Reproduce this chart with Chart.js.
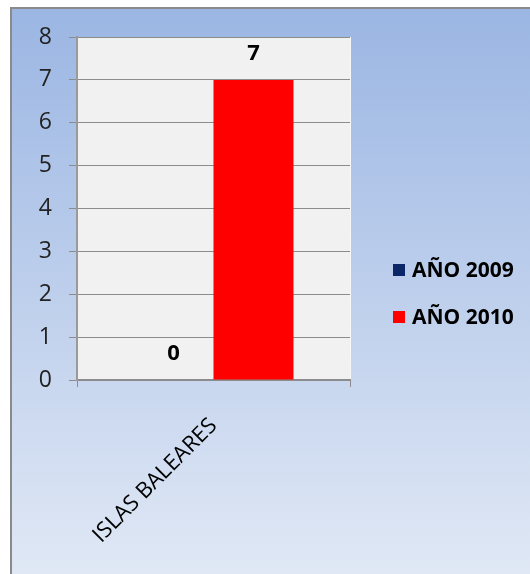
<!DOCTYPE html>
<html><head><meta charset="utf-8">
<script src="https://cdn.jsdelivr.net/npm/chart.js@4/dist/chart.umd.min.js"></script>
<style>html,body{margin:0;padding:0;background:#fff;overflow:hidden}#wrap{width:530px;height:574px;position:relative}</style>
</head><body><div id="wrap"><canvas id="c" width="530" height="574"></canvas></div>
<script>
const categories = ['ISLAS BALEARES'];
const seriesNames = ['AÑO 2009', 'AÑO 2010'];
const values2009 = [0];
const values2010 = [7];
const seriesColors = ['#0b2767', '#ff0000'];
const yTickValues = [0, 1, 2, 3, 4, 5, 6, 7, 8];

const bgPlugin = {
  id: 'bg',
  beforeDraw(chart) {
    const ctx = chart.ctx, W = chart.width, H = chart.height;
    ctx.save();
    ctx.fillStyle = '#ffffff';
    ctx.fillRect(0, 0, W, H);
    const g = ctx.createLinearGradient(0, 9, 0, H);
    g.addColorStop(0, '#9bb6e3');
    g.addColorStop(1, '#e0e8f5');
    ctx.fillStyle = g;
    ctx.fillRect(11, 8, W - 11, H - 8);
    ctx.strokeStyle = '#8a8a8a';
    ctx.lineWidth = 2;
    ctx.beginPath();
    ctx.moveTo(11, H); ctx.lineTo(11, 8); ctx.lineTo(W, 8);
    ctx.stroke();
    const a = chart.chartArea;
    ctx.fillStyle = '#f1f1f1';
    ctx.fillRect(a.left, a.top, a.right - a.left, a.bottom - a.top);
    ctx.strokeStyle = '#f7f7f7';
    ctx.lineWidth = 1;
    ctx.beginPath();
    ctx.moveTo(a.right + 0.5, a.top); ctx.lineTo(a.right + 0.5, a.bottom);
    ctx.stroke();
    ctx.restore();
  }
};

const labelPlugin = {
  id: 'vals',
  afterDatasetsDraw(chart) {
    const ctx = chart.ctx;
    ctx.save();
    ctx.font = 'bold 22px "Open Sans"';
    ctx.fillStyle = '#000';
    ctx.textAlign = 'center';
    ctx.textBaseline = 'middle';
    chart.data.datasets.forEach((ds, i) => {
      chart.getDatasetMeta(i).data.forEach((el, j) => {
        ctx.fillText(String(ds.data[j]), el.x, el.y - 26);
      });
    });
    ctx.restore();
  }
};

const legendPlugin = {
  id: 'customLegend',
  afterDraw(chart) {
    const ctx = chart.ctx;
    const ys = [270, 317];
    ctx.save();
    ctx.font = 'bold 21px "Open Sans"';
    ctx.textBaseline = 'middle';
    ctx.textAlign = 'left';
    chart.data.datasets.forEach((ds, i) => {
      ctx.fillStyle = ds.backgroundColor;
      ctx.fillRect(393, ys[i] - 6, 12, 12);
      ctx.fillStyle = '#000';
      ctx.fillText(ds.label, 412, ys[i] + 1);
    });
    ctx.restore();
  }
};

new Chart(document.getElementById('c'), {
  type: 'bar',
  data: {
    labels: categories,
    datasets: [
      { label: seriesNames[0], data: values2009, backgroundColor: seriesColors[0] },
      { label: seriesNames[1], data: values2010, backgroundColor: seriesColors[1] }
    ]
  },
  options: {
    responsive: false,
    animation: false,
    devicePixelRatio: 1,
    layout: { padding: { left: 0, top: 37, right: 180, bottom: 0 } },
    datasets: { bar: { categoryPercentage: 0.586, barPercentage: 1 } },
    plugins: { legend: { display: false }, tooltip: { enabled: false } },
    scales: {
      x: {
        afterFit(s) { s.height = 194; },
        grid: { drawOnChartArea: false, drawTicks: true, tickLength: 7, color: '#8c8c8c', offset: true },
        border: { color: '#8c8c8c', width: 2 },
        ticks: { color: '#000', font: { family: 'Open Sans', size: 22 }, minRotation: 45, maxRotation: 45, padding: 26 }
      },
      y: {
        min: 0, max: 8,
        afterFit(s) { s.width = 77; },
        afterBuildTicks(s) { s.ticks = yTickValues.map(v => ({ value: v })); },
        grid: { color: '#8c8c8c', tickLength: 8, drawTicks: true },
        border: { color: '#9a9a9a', width: 2 },
        ticks: { color: '#222', font: { family: 'Open Sans', size: 23 }, padding: 17 }
      }
    }
  },
  plugins: [bgPlugin, labelPlugin, legendPlugin]
});
</script>
</body></html>
